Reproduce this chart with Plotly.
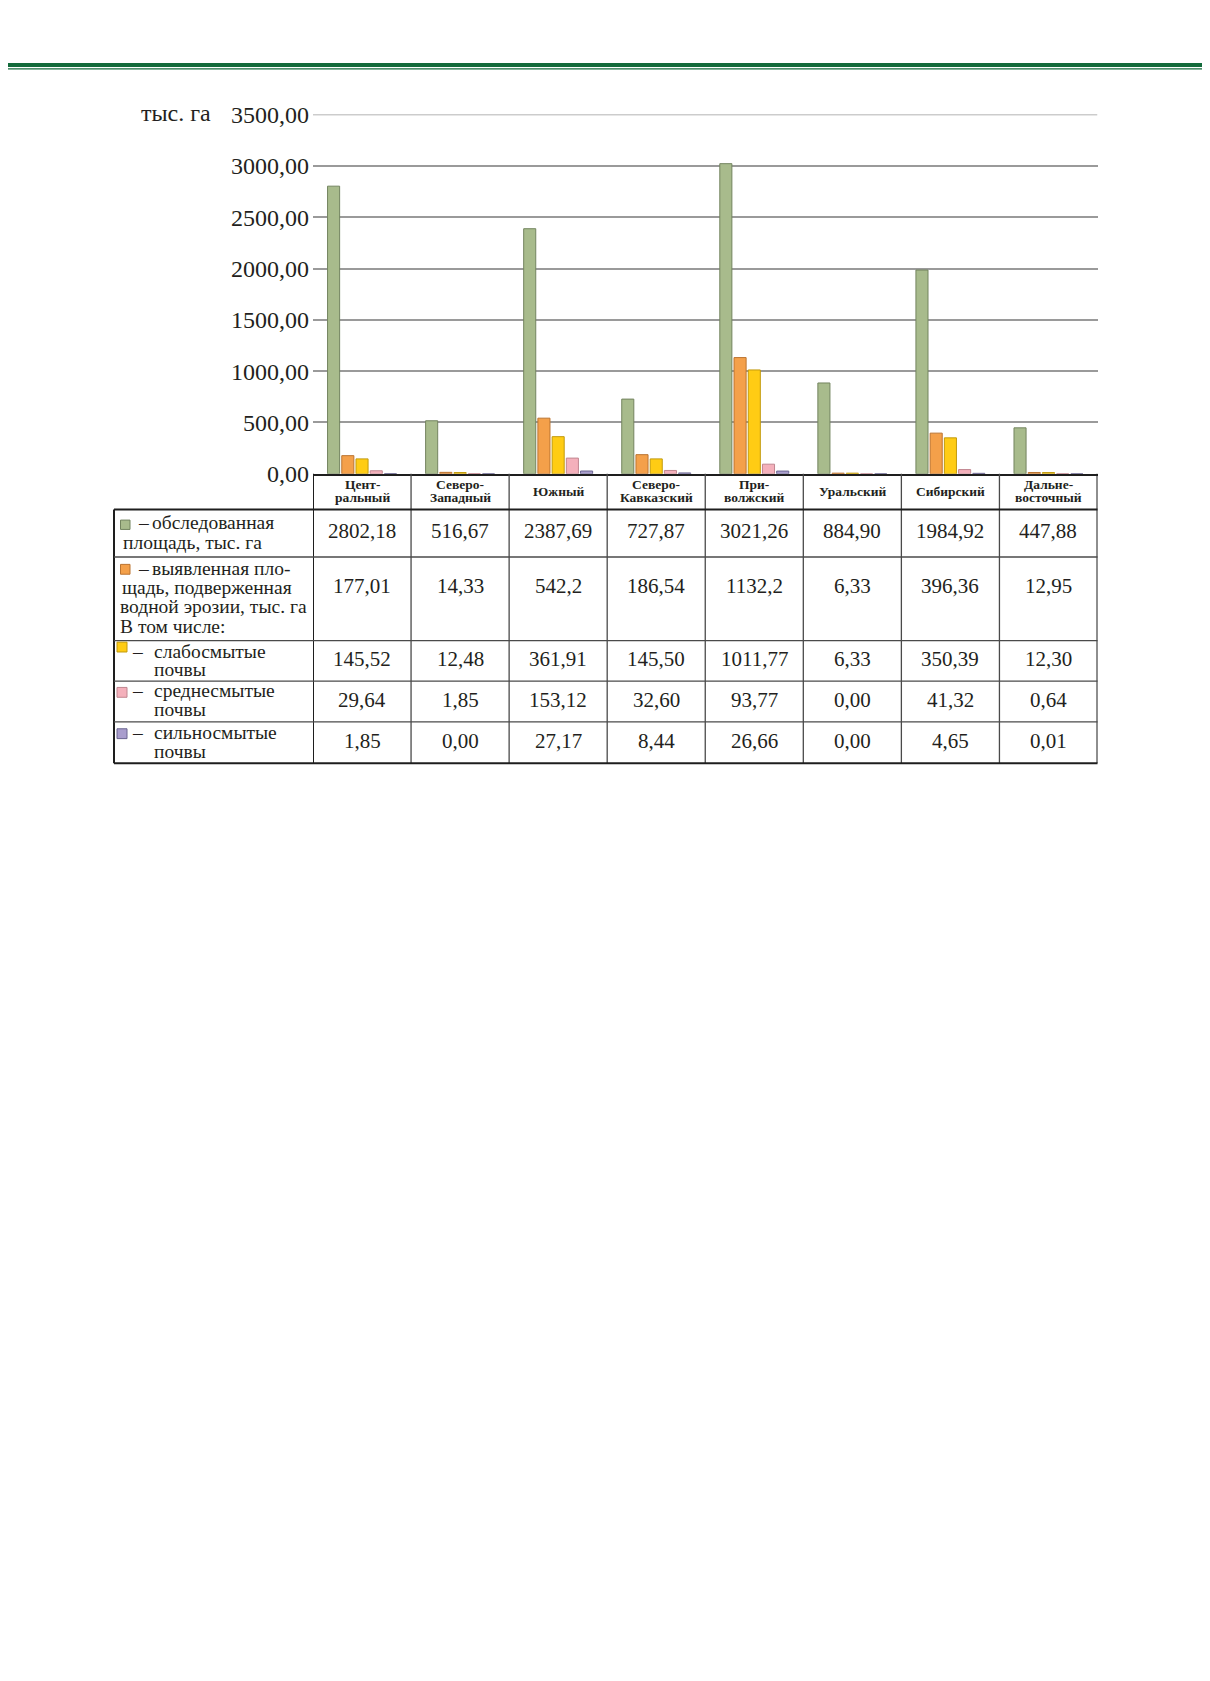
import plotly.graph_objects as go

# page is 1210x1681; the browser body adds an 8 px margin around the figure
PAGE_W, PAGE_H = 1210, 1681
OFF = 8
W, H = PAGE_W - 2 * OFF, PAGE_H - 2 * OFF

regions = ["Центральный", "Северо-Западный", "Южный", "Северо-Кавказский",
           "Приволжский", "Уральский", "Сибирский", "Дальневосточный"]
header_lines = [["Цент-", "ральный"], ["Северо-", "Западный"], ["Южный"],
                ["Северо-", "Кавказский"], ["При-", "волжский"], ["Уральский"],
                ["Сибирский"], ["Дальне-", "восточный"]]

# тыс. га
surveyed = [2802.18, 516.67, 2387.69, 727.87, 3021.26, 884.90, 1984.92, 447.88]
eroded = [177.01, 14.33, 542.2, 186.54, 1132.2, 6.33, 396.36, 12.95]
weak = [145.52, 12.48, 361.91, 145.50, 1011.77, 6.33, 350.39, 12.30]
medium = [29.64, 1.85, 153.12, 32.60, 93.77, 0.00, 41.32, 0.64]
strong = [1.85, 0.00, 27.17, 8.44, 26.66, 0.00, 4.65, 0.01]

series_names = ["обследованная площадь", "выявленная площадь, подверженная водной эрозии",
                "слабосмытые почвы", "среднесмытые почвы", "сильносмытые почвы"]
series_values = [surveyed, eroded, weak, medium, strong]
fill_colors = ["#a8bb8c", "#f4a04a", "#ffcc14", "#f4b0bb", "#a99dcd"]
edge_colors = ["#73845f", "#bb7430", "#c29a0c", "#c08690", "#6a6590"]

FONT = "Liberation Serif, Times New Roman, serif"
INK = "#231f20"

# layout in page pixels
plot_l, plot_r = 313, 1097.5
plot_t, plot_b = 103, 468
tab_l = 114
row_edges = [504.3, 552.5, 637.5, 678.5, 720, 762]
num_y = [526, 581.5, 656, 697.5, 739.5]


def px(v):
    return (v - OFF) / W


def py(v):
    return 1 - (v - OFF) / H


def fmt2(v):
    return f"{v:.2f}".replace(".", ",")


def fmtg(v):
    return f"{v:g}".replace(".", ",")


row_formats = [fmt2, fmtg, fmt2, fmt2, fmt2]

fig = go.Figure()
for name, vals, fc, ec in zip(series_names, series_values, fill_colors, edge_colors):
    fig.add_trace(go.Bar(x=regions, y=vals, name=name,
                         marker=dict(color=fc, line=dict(color=ec, width=1))))

shapes = []
annotations = []

# green rule at the top of the page
shapes.append(dict(type="rect", xref="paper", yref="paper", x0=0, x1=1,
                   y0=py(54.8), y1=py(50.6), fillcolor="#136b3b", line_width=0, layer="above"))
shapes.append(dict(type="rect", xref="paper", yref="paper", x0=0, x1=1,
                   y0=py(57.2), y1=py(55.9), fillcolor="#136b3b", line_width=0, layer="above"))

# top gridline (plotly drops the one on the range edge)
shapes.append(dict(type="line", xref="x", yref="y", x0=-0.5, x1=len(regions) - 0.5,
                   y0=3500, y1=3500, line=dict(color="#9a9a9a", width=1.5), layer="below"))

inner = dict(color="#4a4a4a", width=1.3)
outer = dict(color="#1e1e1e", width=2)

# vertical lines of the table (category boundaries)
for i in range(len(regions) + 1):
    shapes.append(dict(type="line", xref="x", yref="paper", x0=i - 0.5, x1=i - 0.5,
                       y0=py(plot_b), y1=py(row_edges[-1]),
                       line=outer if i in (0, len(regions)) else inner))
shapes.append(dict(type="line", xref="paper", yref="paper", x0=px(tab_l), x1=px(tab_l),
                   y0=py(row_edges[0]), y1=py(row_edges[-1]), line=outer))
# horizontal lines
for k, e in enumerate(row_edges):
    shapes.append(dict(type="line", xref="paper", yref="paper", x0=px(tab_l), x1=px(plot_r),
                       y0=py(e), y1=py(e),
                       line=outer if k in (0, len(row_edges) - 1) else inner))

# header
for i, lines in enumerate(header_lines):
    ys = [485.5] if len(lines) == 1 else [478.5, 492]
    for txt, yy in zip(lines, ys):
        annotations.append(dict(x=regions[i], xref="x", y=py(yy), yref="paper",
                                text="<b>" + txt + "</b>", showarrow=False,
                                xanchor="center", yanchor="middle",
                                font=dict(family=FONT, size=13.5, color=INK)))

# numbers
for r, (vals, f) in enumerate(zip(series_values, row_formats)):
    for i, v in enumerate(vals):
        annotations.append(dict(x=regions[i], xref="x", y=py(num_y[r]), yref="paper",
                                text=f(v), showarrow=False, xanchor="center", yanchor="middle",
                                font=dict(family=FONT, size=21, color=INK)))

# row labels
label_lines = [
    ("–", 136, 517.5), ("обследованная", 150, 517.5), ("площадь, тыс. га", 121, 537.3),
    ("–", 136, 564), ("выявленная пло-", 150, 564), ("щадь, подверженная", 120, 583.5),
    ("водной эрозии, тыс. га", 118, 603), ("В том числе:", 118, 623.5),
    ("–", 129.5, 648), ("слабосмытые", 152, 648), ("почвы", 152, 667),
    ("–", 129.5, 688.5), ("среднесмытые", 152, 688.5), ("почвы", 152, 707),
    ("–", 129.5, 731), ("сильносмытые", 152, 731), ("почвы", 152, 750),
]
for txt, xx, yy in label_lines:
    annotations.append(dict(x=px(xx), xref="paper", y=py(yy), yref="paper", text=txt,
                            showarrow=False, xanchor="left", yanchor="middle",
                            font=dict(family=FONT, size=19.5, color=INK)))

swatches = [(120.5, 515, 130, 524.5), (120.5, 560, 130, 570), (117, 639, 127, 649),
            (117, 685, 127, 695), (117, 727, 127, 737)]
for (x0, y0, x1, y1), fc, ec in zip(swatches, fill_colors, edge_colors):
    shapes.append(dict(type="rect", xref="paper", yref="paper", x0=px(x0), x1=px(x1),
                       y0=py(y1), y1=py(y0), fillcolor=fc, line=dict(color=ec, width=1)))

# unit label
annotations.append(dict(x=px(213), xref="paper", y=py(101), yref="paper", text="тыс. га",
                        showarrow=False, xanchor="right", yanchor="middle",
                        font=dict(family=FONT, size=24, color=INK)))

fig.update_layout(
    width=W, height=H, margin=dict(l=0, r=0, t=0, b=0),
    paper_bgcolor="white", plot_bgcolor="white",
    barmode="group", bargap=0.275, bargroupgap=0.15,
    showlegend=False, separators=", ",
    shapes=shapes, annotations=annotations,
)
fig.update_xaxes(domain=[px(plot_l), px(plot_r)], range=[-0.5, len(regions) - 0.5],
                 showticklabels=False, showgrid=False, zeroline=False,
                 showline=True, linecolor="#1e1e1e", linewidth=2)
fig.update_yaxes(domain=[py(plot_b), py(plot_t)], range=[0, 3500], dtick=500,
                 tickformat=".2f", showgrid=True, gridcolor="#9a9a9a", gridwidth=1.5,
                 zeroline=False, showline=False, ticks="", ticklabelstandoff=3,
                 tickfont=dict(family=FONT, size=24, color=INK))

fig.write_html("out.html")
